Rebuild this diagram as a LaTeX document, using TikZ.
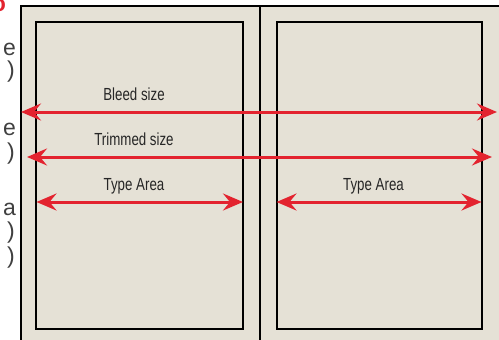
\documentclass[tikz,border=0pt]{standalone}
\usepackage{fontspec}
\setmainfont{Liberation Sans}[FakeStretch=0.76]
\newfontfamily\fragfont{Liberation Sans}
\usetikzlibrary{arrows.meta}
\definecolor{paper}{HTML}{E5E1D6}
\definecolor{arrowred}{HTML}{E3232F}
\tikzset{
  x=1pt, y=-1pt,
  pagebox/.style={draw=black, line width=1.6pt, fill=paper},
  innerbox/.style={draw=black, line width=1.6pt},
  dim/.style={draw=arrowred, line width=3pt,
    {Stealth[length=20pt,width=17pt,inset=7pt]}-{Stealth[length=20pt,width=17pt,inset=7pt]}},
  lbl/.style={font=\fontsize{17.5}{20}\selectfont, text=black!85, inner sep=0pt, anchor=base},
  frag/.style={font=\fragfont\fontsize{23}{25}\selectfont, text=black!75, inner sep=0pt, anchor=base east},
}
\begin{document}
\begin{tikzpicture}
\useasboundingbox (0,0) rectangle (499,340);
% outer spread
\path[pagebox] (21,6) rectangle (520,360);
\draw[line width=1.6pt] (260,6) -- (260,360);
% inner type areas
\node[innerbox, minimum width=207pt, minimum height=307pt, inner sep=0pt] (lp) at (139.7,175.7) {};
\node[innerbox, minimum width=205pt, minimum height=307pt, inner sep=0pt] (rp) at (379.2,175.7) {};
% arrow end coordinates
\coordinate (bl) at (21,112);
\coordinate (br) at (497,112);
\coordinate (tl) at (27,157);
\coordinate (tr) at (492,157);
\coordinate (al) at (36.5,202);
\coordinate (ar) at (243,202);
\coordinate (cl) at (276.5,202);
\coordinate (cr) at (481.5,202);
\draw[dim] (bl) -- (br);
\draw[dim] (tl) -- (tr);
\draw[dim] (al) -- (ar);
\draw[dim] (cl) -- (cr);
% labels
\node[lbl] (bleed) at (134,100) {Bleed size};
\node[lbl] (trim) at (134,145) {Trimmed size};
\node[lbl] (typea) at (134,190) {Type Area};
\node[lbl] (typeb) at (373.5,190) {Type Area};
% cropped side text
\node[frag, text=arrowred, font=\fragfont\fontsize{23}{25}\bfseries\selectfont] (f0) at (6,11) {o};
\node[frag] (f1) at (16,55) {e};
\node[frag] (f2) at (15,77) {)};
\node[frag] (f3) at (16,135) {e};
\node[frag] (f4) at (15,159) {)};
\node[frag] (f5) at (16,215) {a};
\node[frag] (f6) at (15,238) {)};
\node[frag] (f7) at (15,263) {)};
\end{tikzpicture}
\end{document}
